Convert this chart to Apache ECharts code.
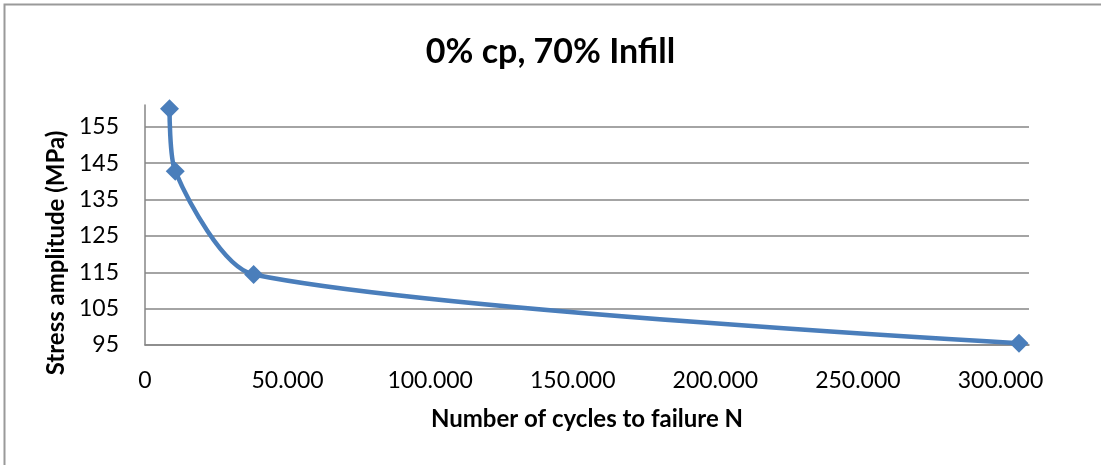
<!DOCTYPE html>
<html>
<head>
<meta charset="utf-8">
<script src="https://cdn.jsdelivr.net/npm/echarts@6/dist/echarts.min.js"></script>
<style>
html,body{margin:0;padding:0;background:#fff;}
#chart{width:1101px;height:465px;}
</style>
</head>
<body>
<div id="chart"></div>
<script>
// Data
const cycles = [8600, 10600, 38100, 306500];
const stress = [160.0, 142.8, 114.4, 95.5];
const titleText = '0% cp, 70% Infill';
const xAxisTitle = 'Number of cycles to failure N';
const yAxisTitle = 'Stress amplitude (MPa)';
const xRange = [0, 310000, 50000];
const yRange = [95, 161, 10];

const FONT = 'Lato, "Open Sans", sans-serif';

function fmtThousands(v) {
  return String(Math.round(v)).replace(/\B(?=(\d{3})+(?!\d))/g, '.');
}

const chart = echarts.init(document.getElementById('chart'), null, {renderer: 'canvas'});
chart.setOption({
  animation: false,
  backgroundColor: '#ffffff',
  title: {
    text: titleText,
    left: 'center',
    top: 30,
    textStyle: {fontFamily: FONT, fontWeight: 'bold', fontSize: 34, color: '#000'}
  },
  graphic: [{
    type: 'rect',
    shape: {x: 4.5, y: 4.5, width: 1200, height: 600},
    style: {fill: 'none', stroke: '#9a9a9a', lineWidth: 2},
    silent: true
  }],
  grid: {left: 145, top: 105, width: 884, height: 240},
  xAxis: {
    type: 'value',
    min: xRange[0], max: xRange[1], interval: xRange[2],
    name: xAxisTitle,
    nameLocation: 'middle',
    nameGap: 62,
    nameTextStyle: {fontFamily: FONT, fontWeight: 'bold', fontSize: 24, color: '#000'},
    axisLine: {show: true, onZero: false, lineStyle: {color: '#868686', width: 1.5}},
    axisTick: {show: false},
    splitLine: {show: false},
    axisLabel: {
      showMaxLabel: false,
      margin: 24,
      fontFamily: FONT, fontSize: 23, color: '#000',
      formatter: v => fmtThousands(v)
    }
  },
  yAxis: {
    type: 'value',
    min: yRange[0], max: yRange[1], interval: yRange[2],
    name: yAxisTitle,
    nameLocation: 'middle',
    nameGap: 75,
    nameRotate: 90,
    nameTextStyle: {fontFamily: FONT, fontWeight: 'bold', fontSize: 24, color: '#000', padding: [0, 56, 0, 0]},
    axisLine: {show: true, lineStyle: {color: '#868686', width: 1.5}},
    axisTick: {show: false},
    splitLine: {show: true, showMaxLine: false, lineStyle: {color: '#868686', width: 1.5}},
    axisLabel: {
      showMaxLabel: false,
      margin: 26,
      fontFamily: FONT, fontSize: 23, color: '#000'
    }
  },
  series: [{
    type: 'line',
    data: cycles.map((c, i) => [c, stress[i]]),
    smooth: 0.25,
    symbol: 'diamond',
    symbolSize: 19,
    itemStyle: {color: '#4a7ebb'},
    lineStyle: {color: '#4a7ebb', width: 4.5}
  }]
});
</script>
</body>
</html>
